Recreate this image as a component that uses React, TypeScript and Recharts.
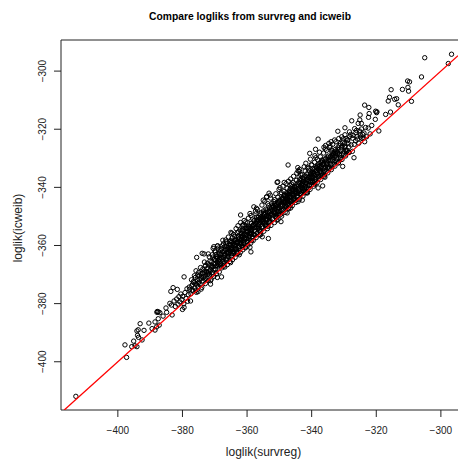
import React from "react";
import { ScatterChart, Scatter, XAxis, YAxis, ReferenceLine } from "recharts";

const xTicks = [-400, -380, -360, -340, -320, -300];
const yTicks = [-400, -380, -360, -340, -320, -300];
const xDomain = [-417.6, -294.7];
const yDomain = [-416.6, -289.3];
const identityEnds = [-416.6, -294.7];

const lowerTail = [
  [-413,-411.9],[-397.8,-394.2],[-397.3,-398.5],[-395.7,-394.8],[-395.1,-392.9],[-394.7,-394.5],[-394.1,-394.8],[-394.1,-389.4],
  [-393.7,-389],[-393.1,-386.9],[-391.9,-389.2],[-390.4,-386.7],[-393.9,-390.9],[-393.6,-391.6],[-392.5,-392.5],[-389.4,-388.6],
  [-388.5,-389.1],[-388.5,-386.3],[-387.5,-385.2],[-388,-388],[-387.2,-387.4],[-387.8,-382.7],[-387.5,-382.8],[-387.9,-383],
  [-387,-383.1],[-386,-384.3],[-384.9,-383],[-383.2,-383.9],[-385.1,-381.5],[-383.9,-379.9],[-383.4,-380.5],[-383.6,-375.8],
  [-382.9,-374.5],[-381.6,-375.1],[-379.5,-370.8],[-375.6,-364.1],[-377.5,-379.1],[-380,-382],[-379.5,-381.3],[-373.9,-362.7],
  [-373.3,-362.9],[-372,-362.9],[-370.5,-361],[-369.2,-360.2],[-367.6,-360],[-367.9,-370.8],[-369.2,-371],[-371.3,-373.3],
  [-375.2,-375.9],[-382.6,-379.1],[-382.2,-381],[-381.8,-378.4],[-381.4,-380.2],[-381.1,-377.6],[-380.8,-379.4],[-380.5,-376.7],
  [-380.2,-378.6],[-379.9,-377.5],[-379.6,-380.1],[-379.2,-376.2],[-378.9,-378.2],[-378.6,-374.9],[-378.4,-379.2],
];

const upperTail = [
  [-296.7,-294.2],[-297.7,-297.4],[-305,-295.4],[-306,-302],[-310.3,-303.4],[-309.7,-303.7],[-310.2,-305.6],[-310,-306.9],
  [-311.9,-306.3],[-315.4,-306.4],[-309.1,-310.4],[-315.9,-309],[-316.3,-310.3],[-314.3,-309.7],[-313.7,-309.5],[-313.2,-311.6],
  [-315.6,-314.1],[-317.1,-314.9],[-323.6,-311.7],[-322.3,-312.5],[-320.2,-313.8],[-319.8,-314],[-319.9,-314.3],[-322.2,-314.6],
  [-322.4,-315.9],[-320.3,-316.6],[-321.4,-318.7],[-319.2,-320.6],[-325,-315.1],[-327.6,-317.1],[-325.1,-316.8],[-325.6,-318],
  [-324.6,-318],[-323.3,-319.4],[-329.7,-319.5],[-331.9,-320.7],[-324.6,-319.9],[-338,-323.4],[-347.3,-332.3],[-344.3,-333.2],
  [-343.9,-334.5],[-350.5,-338.1],[-350.7,-338.3],[-348.5,-338.3],[-353.2,-342],[-354,-343.4],[-355,-344.4],[-357.9,-346.7],
  [-357.1,-347.2],[-362,-349.5],[-359.1,-349],[-361.4,-353],[-362.8,-353.2],[-365,-355.5],[-366.6,-358.1],[-369.1,-360.1],
  [-370.3,-360.4],[-330.4,-332.8],[-326.9,-329.8],[-327.4,-327.6],[-323.6,-324.3],[-336.6,-339.5],[-338,-340.2],[-342.9,-344.4],
  [-347.6,-348.8],[-340.6,-328.3],[-338.8,-326.9],[-335.7,-325.6],[-334,-324.3],[-355.3,-357],[-353.4,-357.6],[-358.8,-362.2],
  [-359.1,-360.6],[-349.5,-351.8],[-326.3,-321.2],[-325.8,-323.4],[-325.2,-320.6],[-324.9,-322.7],[-324.2,-321.8],[-323.9,-323],
  [-326.7,-319.8],[-327.2,-322.1],[-328.3,-320.9],[-328.8,-323.6],
];

const coreLow = [
  [-378.2,-376.9],[-377.8,-375.1],[-377.4,-376.6],[-377.1,-373.9],[-376.8,-375.7],[-376.5,-372.8],[-376.2,-374.6],[-375.9,-373.2],
  [-375.7,-376.1],[-375.4,-371.9],[-375.2,-374.2],[-374.9,-372.6],[-374.7,-370.3],[-374.5,-373.5],[-374.2,-371.4],[-374,-374.4],
  [-373.8,-369.6],[-373.6,-372.2],[-373.3,-370.7],[-373.1,-368.8],[-372.9,-373.1],[-372.7,-371.3],[-372.4,-367.9],[-372.2,-369.9],
  [-372,-372],[-371.8,-366.7],[-371.6,-370.1],[-371.4,-368.4],[-371.1,-371.6],[-370.9,-365.6],[-370.7,-369.2],[-370.5,-367.3],
  [-370.3,-370.6],[-370.1,-364.8],[-369.9,-368.2],[-369.7,-366.3],[-369.5,-369.8],[-369.3,-364],[-369,-367.1],[-368.8,-365.2],
  [-368.6,-369.1],[-368.4,-362.9],[-368.2,-366.4],[-368,-364.4],[-367.8,-367.7],[-367.6,-362.2],[-367.4,-365.5],[-367.1,-363.4],
  [-366.9,-367.4],[-366.7,-361.5],[-366.5,-364.7],[-366.3,-362.6],[-366.1,-366.6],[-365.9,-360.7],[-365.7,-363.8],[-365.5,-361.6],
  [-365.3,-365.5],[-365.1,-359.9],[-364.9,-362.8],[-364.7,-360.8],[-364.5,-364.9],[-364.3,-358.6],[-364.1,-362],[-363.9,-359.7],
  [-363.7,-364.1],[-363.5,-357.9],[-363.3,-361.1],[-363.1,-358.8],[-362.9,-362.8],[-362.7,-356.8],[-362.5,-360.2],[-362.3,-357.6],
  [-362.1,-362.4],[-361.9,-355.9],[-361.7,-359.3],[-361.5,-356.8],[-361.3,-361.5],[-361.1,-354.9],[-360.9,-358.4],[-360.7,-356],
  [-360.5,-360.8],[-360.3,-354.1],[-360.1,-357.6],[-359.9,-355],[-359.7,-359.9],[-359.5,-353.3],[-359.3,-356.7],[-359.1,-354.1],
  [-358.9,-359.2],[-358.7,-352.4],[-358.5,-355.9],[-358.3,-353.3],[-358.1,-358.3],[-357.9,-351.5],[-357.7,-355],[-357.5,-352.4],
  [-377.9,-374.3],[-377,-375.4],[-376,-371],[-375.1,-372.9],[-374.3,-369.7],[-373.5,-371],[-372.6,-368.9],[-371.9,-369.1],
  [-371,-367.6],[-370.2,-366.2],[-369.4,-366.9],[-368.5,-364.8],[-367.7,-365.1],[-366.8,-363.2],[-366,-363.7],[-365.2,-361.9],
  [-364.4,-362.1],[-363.6,-360.1],[-362.8,-360.7],[-361.8,-358.2],[-361,-359.4],[-360.2,-356.6],[-359.4,-357.8],[-358.6,-354.9],
  [-357.8,-356.3],[-371.5,-365.4],[-370.6,-364],[-369.6,-363.1],[-368.7,-362.6],[-367.9,-361.1],[-367,-360.4],[-366.2,-359.2],
  [-365.4,-358.7],[-364.6,-357.4],[-363.8,-356.9],[-363,-355.6],[-362.2,-354.7],[-361.4,-354.4],[-360.6,-353.2],[-359.8,-352.2],
  [-375.3,-370.2],[-374.1,-370.9],[-373,-367.1],[-372.1,-369.4],[-370.4,-368.3],[-369.2,-365.8],[-368.1,-367],[-367.2,-364.1],
  [-366.4,-365.1],[-365.6,-362.7],[-364.8,-363.6],[-364,-361.3],[-363.2,-362.1],[-362.4,-359.1],[-361.6,-360.1],[-360.8,-357.2],
  [-360,-358.6],[-359.2,-355.7],[-358.4,-357.1],[-357.6,-353.8],[-356.9,-355.6],[-356.6,-351],[-356.3,-354],[-356,-352],
];

const coreHigh = [
  [-357.2,-357.3],[-356.7,-353.2],[-356.1,-356.4],[-355.8,-350.4],[-355.5,-353.7],[-355.1,-351.2],[-354.8,-355.1],[-354.6,-349.4],
  [-354.3,-352.8],[-354,-350.5],[-353.7,-354.2],[-353.5,-348.3],[-353.2,-351.9],[-352.9,-349.4],[-352.6,-353.1],[-352.4,-347.4],
  [-352.1,-350.8],[-351.8,-348.6],[-351.5,-352.1],[-351.3,-346.2],[-351,-349.9],[-350.7,-347.5],[-350.4,-351],[-350.2,-345.1],
  [-349.9,-349],[-349.6,-346.6],[-349.3,-349.9],[-349.1,-343.9],[-348.8,-347.9],[-348.5,-345.3],[-348.2,-348.6],[-348,-342.8],
  [-347.7,-346.8],[-347.4,-344.4],[-347.1,-347.4],[-346.9,-341.6],[-346.6,-345.9],[-346.3,-343.2],[-346,-346.3],[-345.8,-340.5],
  [-345.5,-344.6],[-345.2,-342.1],[-344.9,-345.2],[-344.7,-339.6],[-344.4,-343.5],[-344.1,-341.1],[-343.8,-344.1],[-343.6,-338.5],
  [-343.3,-342.4],[-343,-340],[-342.7,-343],[-342.5,-337.2],[-342.2,-341.4],[-341.9,-338.9],[-341.6,-341.9],[-341.4,-336.2],
  [-341.1,-340.2],[-340.8,-337.8],[-340.5,-340.7],[-340.3,-335.1],[-340,-339.1],[-339.7,-336.7],[-339.4,-339.6],[-339.2,-333.9],
  [-338.9,-338],[-338.6,-335.6],[-338.3,-338.4],[-338.1,-332.7],[-337.8,-336.9],[-337.5,-334.4],[-337.2,-337.3],[-337,-331.4],
  [-336.7,-335.8],[-336.4,-333.2],[-336.1,-336.2],[-335.9,-330.2],[-335.6,-334.6],[-335.3,-331.9],[-335,-335],[-334.8,-329.2],
  [-334.5,-333.4],[-334.2,-330.8],[-333.9,-333.9],[-333.7,-327.9],[-333.4,-332.2],[-333.1,-329.6],[-332.8,-332.7],[-332.6,-326.9],
  [-332.3,-331],[-332,-328.4],[-331.7,-331.5],[-331.5,-325.6],[-331.2,-329.8],[-330.9,-327.2],[-330.6,-330.4],[-330.4,-324.4],
  [-330.1,-328.6],[-329.8,-326],[-329.5,-329.2],[-329.3,-323.2],[-329,-327.3],[-328.7,-324.8],[-328.4,-328],[-328.2,-322.5],
  [-357,-350.2],[-355.9,-349.2],[-354.9,-348.1],[-354.2,-347.5],[-353.3,-346.3],[-352.3,-345.5],[-351.4,-344.2],[-350.5,-343.4],
  [-349.5,-342.3],[-348.6,-341.4],[-347.6,-340.3],[-346.7,-339.3],[-345.7,-338.3],[-344.8,-337.6],[-343.9,-336.4],[-342.9,-335.6],
  [-342,-334.4],[-341,-333.5],[-340.1,-332.2],[-339.1,-331.4],[-338.2,-330.4],[-337.3,-329.5],[-336.3,-328.2],[-335.4,-327.3],
  [-334.4,-326.3],[-333.5,-325.2],[-332.5,-324.3],[-331.6,-323.2],[-330.7,-322.6],[-329.7,-321.9],
  [-356.4,-352.7],[-355.3,-352],[-354.4,-351],[-353.4,-350.2],[-352.5,-349],[-351.6,-348.2],[-350.6,-347],[-349.7,-346.2],
  [-348.7,-345],[-347.8,-344.1],[-346.8,-343.1],[-345.9,-342.4],[-345,-341.2],[-344,-340.3],[-343.1,-339.2],[-342.1,-338.4],
  [-341.2,-337.2],[-340.2,-336.4],[-339.3,-335.2],[-338.4,-334.3],[-337.4,-333.2],[-336.5,-332.1],[-335.5,-331.2],[-334.6,-330.3],
  [-333.6,-329.1],[-332.7,-328.2],[-331.8,-327.1],[-330.8,-326.2],[-329.9,-325],
  [-356.2,-355],[-355.2,-354.1],[-354.1,-353],[-353.1,-352],[-352.2,-351],[-351.2,-350.1],[-350.3,-349.2],[-349.2,-348],
  [-348.3,-347.1],[-347.3,-346.2],[-346.4,-345],[-345.4,-344.1],[-344.5,-343.2],[-343.5,-342.1],[-342.6,-341.2],[-341.7,-340.1],
  [-340.7,-339.2],[-339.8,-338.3],[-338.8,-337.1],[-337.9,-336.2],[-337,-335.1],[-336,-334.3],[-335.1,-333.2],[-334.1,-332.1],
  [-333.2,-331.2],[-332.2,-330.1],[-331.3,-329.1],[-330.3,-328.2],[-329.4,-327.2],[-328.5,-326.1],[-327.8,-325.4],[-327.3,-323.1],
  [-326.8,-325.2],[-326.4,-324],[-325.9,-322.4],[-325.4,-324.8],[-325,-321.9],[-324.4,-323.2],[-323.8,-321.3],[-323,-322.6],
  [-322.5,-319.6],[-321.9,-321.6],[-327.9,-321.8],[-326.1,-320.4],
];

const coreScatter = [
  [-372.3,-366.1],[-358.2,-350.9],[-345.3,-340.2],[-367.3,-359.4],[-339.6,-334.8],[-351.7,-344.9],[-362.6,-355.3],[-333.3,-328.7],[-376.3,-370.4],[-348.1,-343.3],
  [-355.6,-348.7],[-341.3,-333.2],[-369.8,-362.3],[-336.8,-330.6],[-360.4,-351.9],[-346.2,-338.9],[-353.6,-345.6],[-364.2,-356.2],[-331.1,-324.9],[-374.4,-367.6],
  [-343.4,-335.7],[-357.3,-349.1],[-349.4,-341.8],[-366.6,-360.3],[-338.7,-329.8],[-352.8,-342.7],[-361.2,-352.9],[-334.3,-325.8],[-370.8,-363.2],[-344.2,-334.3],
  [-356.8,-347.6],[-347.2,-337.9],[-363.4,-354.2],[-340.4,-330.3],[-373.2,-365.7],[-350.1,-340.7],[-359.6,-350.6],[-335.8,-326.8],[-367.5,-358.2],[-342.3,-332.9],
  [-354.5,-344.8],[-345.6,-336.2],[-365.8,-357.1],[-337.6,-327.9],[-371.7,-363.9],[-348.9,-339.6],[-358.8,-349.7],[-332.9,-323.7],[-362,-352.1],[-343.7,-333.8],
  [-351.1,-342.2],[-368.9,-360.9],[-339,-329.1],[-355.4,-346.1],[-346.5,-337.1],[-360.9,-351.4],[-334.7,-324.9],[-375.8,-368.7],[-349.8,-340.1],[-341.8,-331.7],
  [-353.9,-343.2],[-364.7,-355.8],[-336.2,-326.2],[-347.9,-338.7],[-370,-361.9],[-357.4,-348.2],[-344.6,-335.1],[-330.2,-323.3],[-366.4,-358.7],[-352.7,-343.7],
  [-339.9,-332.3],[-361.6,-354.9],[-350.8,-345.8],[-373.7,-368.1],[-343.2,-337.6],[-356.5,-350.3],[-333.9,-327.2],[-368.3,-361.7],[-346.1,-339.8],[-359.9,-353.7],
  [-337.1,-331.3],[-352,-346.2],[-364.9,-358.3],[-340.9,-334.1],[-377.2,-371.8],[-348.4,-342.6],[-355,-348.9],[-331.9,-326.4],[-362.7,-357.2],[-345.1,-340.6],
  [-369.4,-363.8],[-338.5,-333.3],[-354.7,-349.3],[-342.8,-336.7],[-358,-352.8],[-335.2,-329.6],[-366.8,-361.2],[-350,-344.4],[-372.8,-366.9],[-347,-341.2],
  [-360.7,-355.1],[-333,-327.8],[-344,-338.2],[-356.9,-351.2],[-339.5,-333.6],[-363.9,-358.4],[-351.9,-346.8],[-328.9,-323.9],[-341.5,-335.4],[-370.2,-364.7],
  [-353,-347.1],[-346,-340.9],[-365.5,-359.8],[-336.6,-330.9],[-358.4,-353.3],[-375,-369.3],[-348,-343.7],[-343,-338.8],[-361,-356.2],[-332.4,-327.5],
  [-367.8,-362.9],[-355.7,-350.8],[-340,-335.8],[-350.9,-346.4],[-371.2,-366.8],[-344.9,-340.8],[-337.7,-332.8],[-363,-358.9],[-353.8,-349.7],[-330.5,-325.7],
  [-346.9,-342.3],[-359,-354.7],[-334.9,-330.7],[-369.7,-365.1],[-342.4,-337.9],[-351.2,-347.2],[-364.4,-360.1],[-338,-333.7],[-356,-351.9],[-376.6,-372.4],
  [-348.8,-344.2],[-332,-327.9],[-361.5,-357.3],[-345,-341.7],[-368.4,-364.1],[-340.6,-336.3],[-354,-349.8],[-335,-331.6],[-373.4,-369.2],[-358.5,-354.4],
  [-350.2,-346.9],[-343.5,-339.7],[-365,-361.1],[-336.9,-332.7],[-347.5,-343.9],[-371,-367.2],[-355.1,-351.6],[-329.6,-325.8],[-362.2,-358.8],[-341.7,-338.1],
  [-353.4,-350.1],[-367,-363.3],[-339.2,-335.9],[-348.3,-345.2],[-376.9,-373.4],[-358.9,-355.8],[-333.7,-330.6],[-345.8,-342.8],[-364.6,-361.4],[-351.6,-348.8],
  [-342.6,-339.4],[-372.5,-369.1],[-356.4,-353.6],[-337.3,-334.6],[-361.9,-359.1],[-349,-346.1],[-331.4,-328.6],[-344.7,-342.1],[-369.1,-366.2],[-353.7,-351.1],
  [-340.2,-337.7],[-365.9,-362.9],[-347.7,-345.1],[-335.6,-333.1],[-359.3,-356.9],[-374.8,-371.7],[-351.3,-349.1],[-343.7,-341.4],[-363.6,-361.2],[-338.3,-336.2],
  [-356.6,-354.2],[-330,-327.7],[-348.2,-346.1],[-368.8,-366.6],[-341.9,-339.7],[-354.6,-352.3],[-334.8,-332.9],[-361.1,-358.9],[-346.7,-344.8],[-372,-369.8],
  [-358.1,-356.1],[-339.7,-337.9],[-350.4,-348.3],[-366.3,-364.3],[-344.3,-342.7],[-332.7,-330.8],[-355.2,-353.4],[-342.2,-340.6],[-375.5,-373.6],[-362.3,-360.4],
  [-347.1,-345.4],[-336.4,-334.8],[-352.9,-351.2],[-369.9,-368.1],[-340.8,-339.4],[-359.7,-358.2],[-345.4,-344],[-329.2,-327.7],[-364.3,-362.8],[-350.7,-349.4],
  [-337.5,-336.1],[-357.6,-356.4],[-343.4,-342.2],[-373,-371.6],[-354.2,-353.2],[-331,-329.9],[-348.6,-347.6],[-366.9,-365.7],[-339.3,-338.4],[-361.4,-360.5],
  [-346.3,-345.5],[-333.8,-333],[-355.9,-355.2],[-341,-340.3],[-370.6,-369.9],[-351,-350.4],[-328.6,-328],[-363.1,-362.6],[-344.8,-344.3],[-336.1,-335.7],
  [-358.6,-358.3],[-349.6,-349.3],[-375.9,-375.5],[-342,-341.8],[-367.3,-367.1],[-353.5,-353.4],[-331.7,-331.6],[-347.3,-347.2],[-339,-338.9],[-360.6,-360.5],
  [-374.2,-375],[-355.8,-356.3],[-344.2,-344.9],[-365.1,-365.9],[-335.9,-336.5],[-350.8,-351.3],[-362.4,-363.2],[-341.3,-341.9],[-371.3,-372.1],[-346.5,-347.1],
];

const coreDense = [
  [-364.8,-358.9],[-349.2,-344.3],[-357.7,-351.4],[-342.9,-338.1],[-361.3,-356.6],[-346.6,-340.4],[-353.1,-348.4],[-338.6,-333.2],[-366.2,-361.3],[-351.5,-345.7],
  [-344.1,-339.2],[-359.6,-354.1],[-336.7,-332.1],[-355.3,-349.8],[-348.7,-342.9],[-363.7,-358.1],[-341.1,-336.6],[-352.4,-346.9],[-346.4,-341.6],[-368.1,-363.2],
  [-357.1,-352.2],[-339.8,-334.7],[-350.3,-345.6],[-343.6,-337.3],[-362.5,-357.8],[-354.9,-350.4],[-337.7,-331.9],[-347.4,-342.2],[-359.8,-355.1],[-334.4,-329.7],
  [-365.2,-360.7],[-352.2,-347.9],[-344.5,-338.8],[-356.7,-351.7],[-341.4,-337.4],[-349.9,-344.8],[-361.8,-356.9],[-338.2,-332.3],[-346.8,-342.7],[-354.3,-348.7],
  [-367.1,-361.9],[-343.2,-339.3],[-358.3,-354.1],[-351.1,-346.3],[-335.6,-330.3],[-363.2,-359.1],[-347.8,-341.9],[-340.1,-335.4],[-355.6,-351.3],[-345.3,-339.8],
  [-360.2,-355.4],[-352.7,-348.1],[-337.9,-333.8],[-342.5,-337.9],[-369.3,-364.4],[-349.1,-343.9],[-356.1,-350.9],[-333.4,-328.3],[-364.1,-359.3],[-346.9,-343.6],
  [-339.4,-335.1],[-353.8,-347.8],[-361.7,-357.9],[-344.9,-341.3],[-351.8,-346.7],[-336.3,-331.7],[-358.9,-353.9],[-348.1,-344.8],[-342.1,-336.1],[-366,-362.2],
  [-355.4,-351.1],[-340.5,-336.8],[-350.6,-345.2],[-362.9,-358.6],[-345.7,-340.9],[-334.1,-329.3],[-357.9,-353.1],[-353.3,-349.6],[-338.9,-334.4],[-347.6,-343.3],
  [-368.6,-364.6],[-343.9,-340.8],[-359.4,-355.9],[-351.4,-347.7],[-337.1,-333.4],[-363.5,-360.2],[-349.3,-345.7],[-341.6,-338.6],[-355,-352.3],[-346.1,-342.1],
  [-360.8,-357.6],[-332.6,-329.1],[-353.2,-350.3],[-339.9,-336.4],[-365.7,-362.4],[-348.5,-344.6],[-344.4,-341.8],[-356.9,-353.7],[-335.3,-332.2],[-350.1,-347.3],
  [-342.7,-340.3],[-362.1,-359.6],[-354.4,-352.2],[-338.1,-335.3],[-347,-344.5],[-358.7,-356.2],[-345.6,-343.8],[-351.7,-349.6],[-340.3,-338.3],[-364,-362.4],
  [-336,-333.7],[-349.8,-348.2],[-356.2,-354.6],[-343.1,-341.5],[-360,-358.8],[-353,-351.6],[-346.2,-344.4],[-339.1,-337.8],[-367.4,-366.1],[-348,-346.8],
];

const toPoints = (rows: number[][]) => rows.map(([survreg, icweib]) => ({ survreg, icweib }));
const points = [...toPoints(lowerTail), ...toPoints(coreLow), ...toPoints(coreHigh), ...toPoints(coreScatter), ...toPoints(coreDense), ...toPoints(upperTail)];
const identityLine = identityEnds.map((v) => ({ survreg: v, icweib: v }));
const FONT = '"Liberation Sans", Arial, sans-serif';
const fmt = (v: number) => String(v).replace("-", "\u2212");

const Ring = (p: any) => <circle cx={p.cx} cy={p.cy} r={2.2} fill="none" stroke="#000" strokeWidth={1} />;
const NoMark = () => <g />;

const XTick = ({ x, y, payload }: any) => (
  <text x={x} y={y + 14.5} textAnchor="middle" fontFamily={FONT} fontSize={10} fill="#222">{fmt(payload.value)}</text>
);
const YTick = ({ y, payload }: any) => (
  <text x={46.5} y={y} transform={`rotate(-90 46.5 ${y})`} textAnchor="middle" fontFamily={FONT} fontSize={10} fill="#222">{fmt(payload.value)}</text>
);

export default function App() {
  return (
    <div style={{ position: "fixed", left: 0, top: 0, width: 458, height: 459, overflow: "hidden", background: "#fff" }}>
      <ScatterChart width={458} height={459} margin={{ top: 40, right: 0, bottom: 0, left: 0 }}>
        <XAxis type="number" dataKey="survreg" domain={xDomain} ticks={xTicks} allowDataOverflow height={49} tick={<XTick />} tickSize={7} stroke="#222" interval={0} />
        <YAxis type="number" dataKey="icweib" domain={yDomain} ticks={yTicks} allowDataOverflow width={61} tick={<YTick />} tickSize={7} stroke="#222" interval={0} />
        <ReferenceLine y={yDomain[1]} stroke="#222" strokeWidth={1} />
        <Scatter data={points} shape={<Ring />} isAnimationActive={false} />
        <Scatter data={identityLine} shape={<NoMark />} line={{ stroke: "#f00", strokeWidth: 1.3 }} isAnimationActive={false} />
        <text x={250} y={20} textAnchor="middle" fontFamily={FONT} fontSize={10.3} fontWeight="bold" fill="#000">Compare logliks from survreg and icweib</text>
        <text x={263.5} y={455.5} textAnchor="middle" fontFamily={FONT} fontSize={12} fill="#222">loglik(survreg)</text>
        <text x={22} y={228} transform="rotate(-90 22 228)" textAnchor="middle" fontFamily={FONT} fontSize={12} fill="#222">loglik(icweib)</text>
      </ScatterChart>
    </div>
  );
}
